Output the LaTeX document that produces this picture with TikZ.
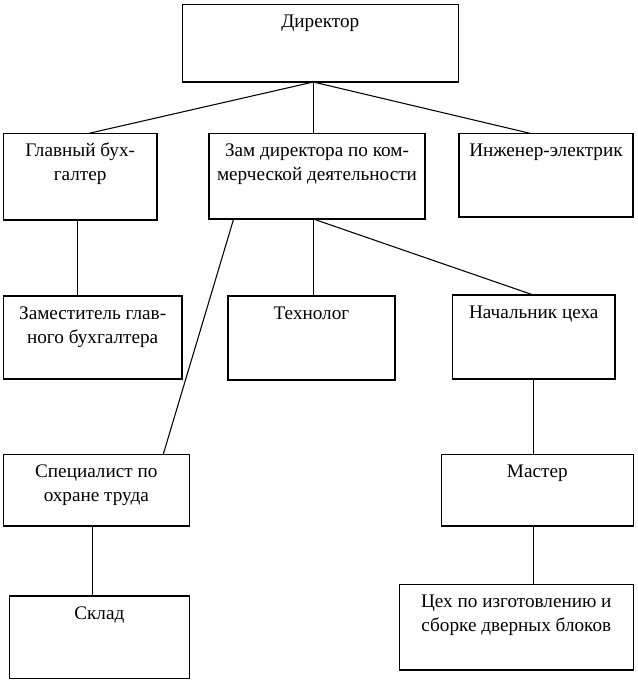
\documentclass[tikz,border=0pt]{standalone}
\usepackage{fontspec}
\setmainfont{Liberation Serif}
\usetikzlibrary{calc}
\newcommand{\orgbox}[6]{%
  \node[box, minimum width={(#4-#2)*0.75pt}, minimum height={(#5-#3)*0.75pt}] (#1) at (#2,#3) {};
  \node[lbl] (#1t) at ({(#2+#4)/2},{#3+5.8}) {\rule{0pt}{13pt}#6};
}
\begin{document}
\begin{tikzpicture}[x=0.75pt,y=-0.75pt,
  box/.style={draw, line width=0.8pt, rectangle, anchor=north west, inner sep=0pt, outer sep=0pt},
  lbl/.style={anchor=north, inner sep=0pt, outer sep=0pt, align=center, font=\fontsize{14.4pt}{18pt}\selectfont},
  conn/.style={line width=0.8pt}]
\useasboundingbox (0,0) rectangle (637,689);

\orgbox{dir}{182.3}{4.7}{458.3}{82}{Директор}
\orgbox{gb}{3.3}{133.3}{157}{220}{Главный бух-\\галтер}
\orgbox{zam}{209}{133.3}{425}{219}{Зам директора по ком-\\мерческой деятельности}
\orgbox{ing}{459}{133.3}{633}{217}{Инженер-электрик}
\orgbox{zgb}{3.3}{296}{182}{379}{Заместитель глав-\\ного бухгалтера}
\orgbox{tech}{228}{296}{395}{380}{Технолог}
\orgbox{nach}{452.5}{295}{615}{379}{Начальник цеха}
\orgbox{spec}{3.3}{454.3}{189.3}{526}{Специалист по\\охране труда}
\orgbox{mast}{441.3}{454.3}{633.3}{526}{Мастер}
\orgbox{sklad}{9.3}{596}{189.3}{678.3}{Склад}
\orgbox{cex}{399.3}{584.3}{633.3}{670}{Цех по изготовлению и\\сборке дверных блоков}

\coordinate (dirB) at ($(dir.south west)!0.4746!(dir.south east)$);
\draw[conn] (dirB) -- ($(gb.north west)!0.558!(gb.north east)$);
\draw[conn] (dirB) -- (zam.north -| dirB);
\draw[conn] (dirB) -- ($(ing.north west)!0.408!(ing.north east)$);

\coordinate (gbB) at ($(gb.south west)!0.481!(gb.south east)$);
\draw[conn] (gbB) -- (zgb.north -| gbB);

\coordinate (zamB) at ($(zam.south west)!0.483!(zam.south east)$);
\draw[conn] (zamB) -- (tech.north -| zamB);
\draw[conn] (zamB) -- ($(nach.north west)!0.4975!(nach.north east)$);
\draw[conn] ($(zam.south west)!0.114!(zam.south east)$) -- ($(spec.north west)!0.86!(spec.north east)$);

\coordinate (nachB) at ($(nach.south west)!0.4975!(nach.south east)$);
\draw[conn] (nachB) -- (mast.north -| nachB);
\draw[conn] (mast.south -| nachB) -- (cex.north -| nachB);

\coordinate (specB) at ($(spec.south west)!0.478!(spec.south east)$);
\draw[conn] (specB) -- (sklad.north -| specB);
\end{tikzpicture}
\end{document}
